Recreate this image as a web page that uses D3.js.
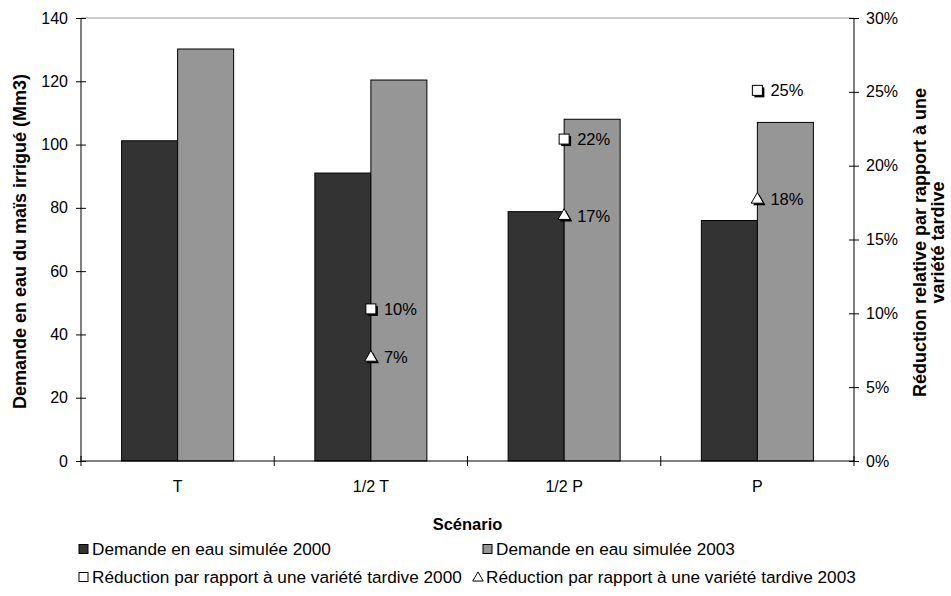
<!DOCTYPE html>
<html>
<head>
<meta charset="utf-8">
<script src="https://cdn.jsdelivr.net/npm/d3@7"></script>
<style>
  html, body { margin: 0; padding: 0; background: #fff; }
  svg { display: block; font-family: "Liberation Sans", Arial, sans-serif; }
</style>
</head>
<body>
<svg id="chart" width="951" height="596"></svg>
<script>
// ---- data ----
const categories = ["T", "1/2 T", "1/2 P", "P"];
const demand2000 = [101.2, 91.0, 78.8, 76.0];
const demand2003 = [130.2, 120.4, 108.0, 107.0];
const reduction2000 = [null, 10.3, 21.8, 25.1];
const reduction2003 = [null, 7.0, 16.6, 17.7];
const leftTicks = [0, 20, 40, 60, 80, 100, 120, 140];
const rightTicks = [0, 5, 10, 15, 20, 25, 30];
const seriesNames = ["Demande en eau simulée 2000", "Demande en eau simulée 2003",
  "Réduction par rapport à une variété tardive 2000", "Réduction par rapport à une variété tardive 2003"];

// ---- layout ----
const svg = d3.select("#chart");
const L = 81, R = 854, T = 18, B = 461;
const FS = 16, FT = 18, FL = 17.2, FD = 16.5;
const dark = "#333333", light = "#969696";
const FF = "Liberation Sans, Arial, sans-serif";

const x = d3.scaleBand().domain(categories).range([L, R]).padding(0);
const xs = d3.scaleBand().domain(["2000", "2003"]).range([0, x.bandwidth()]).paddingInner(0).paddingOuter(0.725);
const yL = d3.scaleLinear().domain([0, 140]).range([B, T]);
const yR = d3.scaleLinear().domain([0, 30]).range([B, T]);

// top border
svg.append("line").attr("x1", L).attr("x2", R).attr("y1", T).attr("y2", T)
  .attr("stroke", "#999").attr("stroke-width", 1);

// bars
const g = svg.append("g");
categories.forEach((c, i) => {
  [["2000", demand2000[i], dark], ["2003", demand2003[i], light]].forEach(([s, v, col]) => {
    g.append("rect")
      .attr("x", x(c) + xs(s))
      .attr("y", yL(v))
      .attr("width", xs.bandwidth())
      .attr("height", yL(0) - yL(v))
      .attr("fill", col).attr("stroke", "#000").attr("stroke-width", 1);
  });
});

// left axis
const axL = svg.append("g").attr("transform", `translate(${L},0)`)
  .call(d3.axisLeft(yL).tickValues(leftTicks).tickSize(5).tickPadding(8).tickFormat(d3.format("d")));
axL.select(".domain").remove();
axL.selectAll(".tick line").attr("x1", 5).attr("stroke", "#000");
axL.selectAll("text").attr("font-size", FS).attr("font-family", FF).attr("fill", "#000");
svg.append("line").attr("x1", L).attr("x2", L).attr("y1", T).attr("y2", B).attr("stroke", "#000");

// right axis
const axR = svg.append("g").attr("transform", `translate(${R},0)`)
  .call(d3.axisRight(yR).tickValues(rightTicks).tickSize(5).tickPadding(7).tickFormat(d => d + "%"));
axR.select(".domain").remove();
axR.selectAll(".tick line").attr("x1", -5).attr("stroke", "#000");
axR.selectAll("text").attr("font-size", FS).attr("font-family", FF).attr("fill", "#000");
svg.append("line").attr("x1", R).attr("x2", R).attr("y1", T).attr("y2", B).attr("stroke", "#000");

// bottom axis
const axB = svg.append("g").attr("transform", `translate(0,${B})`)
  .call(d3.axisBottom(x).tickSize(0).tickPadding(20));
axB.select(".domain").remove();
axB.selectAll("text").attr("font-size", FS).attr("font-family", FF).attr("fill", "#000");
svg.append("line").attr("x1", L).attr("x2", R).attr("y1", B).attr("y2", B).attr("stroke", "#000");
const bounds = categories.map(c => x(c)).concat([x.range()[1]]);
svg.append("g").selectAll("line").data(bounds).join("line")
  .attr("x1", d => d).attr("x2", d => d).attr("y1", B - 5).attr("y2", B + 5).attr("stroke", "#000");

// axis titles
svg.append("text").attr("x", (L + R) / 2).attr("y", 530).attr("text-anchor", "middle")
  .attr("font-size", FS + 0.5).attr("font-weight", "bold").text("Scénario");
svg.append("text").attr("transform", `translate(26,${(T + B) / 2 + 2}) rotate(-90)`).attr("text-anchor", "middle")
  .attr("font-size", FT).attr("font-weight", "bold").text("Demande en eau du maïs irrigué (Mm3)");
svg.append("text").attr("transform", `translate(926,${(T + B) / 2 + 3}) rotate(-90)`).attr("text-anchor", "middle")
  .attr("font-size", FT).attr("font-weight", "bold").text("Réduction relative par rapport à une");
svg.append("text").attr("transform", `translate(944,${(T + B) / 2 + 3}) rotate(-90)`).attr("text-anchor", "middle")
  .attr("font-size", FT).attr("font-weight", "bold").text("variété tardive");

// markers
const sq = 10;
const triPath = d3.symbol().type(d3.symbolTriangle).size(66);
const triSmall = d3.symbol().type(d3.symbolTriangle).size(48);
function square(sel, cx, cy, shadow) {
  if (shadow) sel.append("rect").attr("x", cx - sq / 2 + 2).attr("y", cy - sq / 2 + 2).attr("width", sq).attr("height", sq).attr("fill", "#000");
  sel.append("rect").attr("x", cx - sq / 2).attr("y", cy - sq / 2).attr("width", sq).attr("height", sq)
    .attr("fill", "#fff").attr("stroke", "#000").attr("stroke-width", 1);
}
function triangle(sel, cx, cy, shadow) {
  if (shadow) sel.append("path").attr("d", triPath()).attr("transform", `translate(${cx + 2},${cy + 2})`).attr("fill", "#000");
  sel.append("path").attr("d", triPath()).attr("transform", `translate(${cx},${cy})`)
    .attr("fill", "#fff").attr("stroke", "#000").attr("stroke-width", 1);
}
const mk = svg.append("g");
categories.forEach((c, i) => {
  const cx = x(c) + x.bandwidth() / 2;
  if (reduction2000[i] != null) {
    const cy = yR(reduction2000[i]);
    square(mk, cx, cy, true);
    mk.append("text").attr("x", cx + 13).attr("y", cy).attr("dy", "0.35em").attr("font-size", FD).text(Math.round(reduction2000[i]) + "%");
  }
  if (reduction2003[i] != null) {
    const cy = yR(reduction2003[i]);
    triangle(mk, cx, cy, true);
    mk.append("text").attr("x", cx + 13).attr("y", cy).attr("dy", "0.35em").attr("font-size", FD).text(Math.round(reduction2003[i]) + "%");
  }
});

// legend
const lg = svg.append("g").attr("font-size", FL);
const legendItems = [
  { x: 79, y: 549, kind: "bar", color: dark, name: seriesNames[0] },
  { x: 483, y: 549, kind: "bar", color: light, name: seriesNames[1] },
  { x: 79, y: 577, kind: "square", name: seriesNames[2] },
  { x: 473, y: 577, kind: "tri", name: seriesNames[3] }
];
legendItems.forEach(it => {
  if (it.kind === "bar") {
    lg.append("rect").attr("x", it.x).attr("y", it.y - 4.5).attr("width", 9).attr("height", 9)
      .attr("fill", it.color).attr("stroke", "#000");
  } else if (it.kind === "square") {
    lg.append("rect").attr("x", it.x).attr("y", it.y - 4.5).attr("width", 9).attr("height", 9)
      .attr("fill", "#fff").attr("stroke", "#000");
  } else {
    lg.append("path").attr("d", triSmall()).attr("transform", `translate(${it.x + 5},${it.y + 1})`)
      .attr("fill", "#fff").attr("stroke", "#000");
  }
  lg.append("text").attr("x", it.x + 13).attr("y", it.y).attr("dy", "0.35em").text(it.name);
});
</script>
</body>
</html>
